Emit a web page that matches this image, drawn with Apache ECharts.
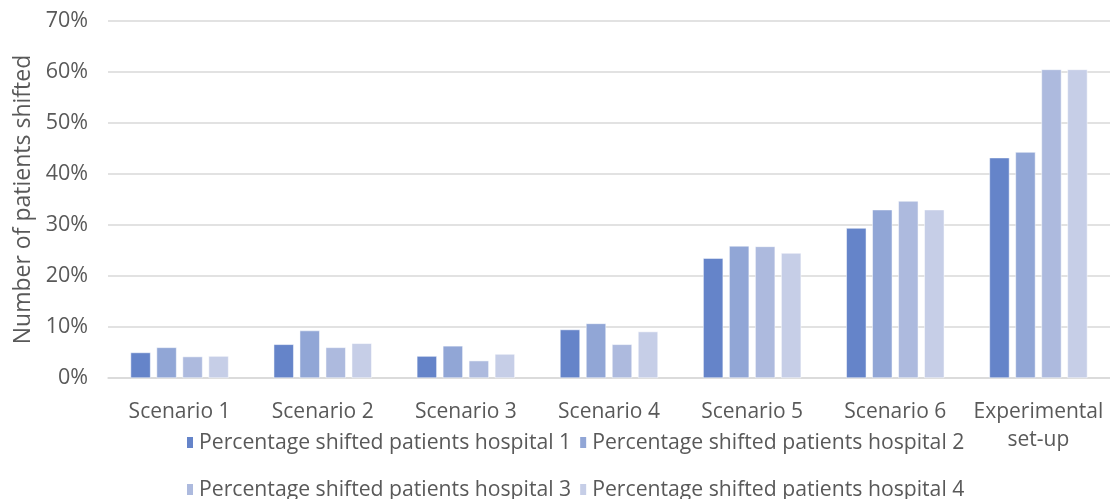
<!DOCTYPE html>
<html>
<head>
<meta charset="utf-8">
<script src="https://cdn.jsdelivr.net/npm/echarts@6/dist/echarts.min.js"></script>
<style>
  html, body { margin: 0; padding: 0; background: #fff; }
  #chart { width: 1110px; height: 499px; }
</style>
</head>
<body>
<div id="chart"></div>
<script>
const categories = ['Scenario 1', 'Scenario 2', 'Scenario 3', 'Scenario 4', 'Scenario 5', 'Scenario 6', 'Experimental set-up']
const seriesNames = [
  'Percentage shifted patients hospital 1',
  'Percentage shifted patients hospital 2',
  'Percentage shifted patients hospital 3',
  'Percentage shifted patients hospital 4',
]
const hospital1 = [5.0, 6.6, 4.3, 9.5, 23.5, 29.4, 43.2]
const hospital2 = [6.0, 9.3, 6.3, 10.7, 25.9, 33.0, 44.3]
const hospital3 = [4.2, 6.0, 3.4, 6.6, 25.8, 34.7, 60.5]
const hospital4 = [4.3, 6.8, 4.7, 9.1, 24.5, 33.0, 60.5]
const colors = ['#6584c9', '#91a6d6', '#adbade', '#c6cee7']

const font = '"Open Sans", sans-serif'
const chart = echarts.init(document.getElementById('chart'))

const legendBase = {
  icon: 'rect',
  itemWidth: 8,
  itemHeight: 13,
  itemGap: 7,
  left: 180,
  textStyle: { fontFamily: font, fontSize: 21.2, color: '#595959' },
}

chart.setOption({
  backgroundColor: '#fff',
  color: colors,
  legend: [
    { ...legendBase, top: 427, data: seriesNames.slice(0, 2) },
    { ...legendBase, top: 474, data: seriesNames.slice(2, 4) },
  ],
  grid: { left: 108, right: 0, top: 21, bottom: 121 },
  xAxis: {
    type: 'category',
    data: categories,
    axisLine: { lineStyle: { color: '#d9d9d9', width: 1.5 } },
    axisTick: { show: false },
    axisLabel: {
      interval: 0,
      fontFamily: font,
      fontSize: 21,
      color: '#595959',
      margin: 20,
      lineHeight: 28,
      formatter: v => v.replace(' set-', '\nset-'),
    },
  },
  yAxis: {
    type: 'value',
    min: 0,
    max: 70,
    interval: 10,
    name: 'Number of patients shifted',
    nameLocation: 'middle',
    nameGap: 72,
    nameTextStyle: { fontFamily: font, fontSize: 23, color: '#595959' },
    axisLabel: { fontFamily: font, fontSize: 21.5, color: '#595959', margin: 20, formatter: '{value}%' },
    splitLine: { lineStyle: { color: '#d9d9d9', width: 1.5 } },
  },
  series: [hospital1, hospital2, hospital3, hospital4].map((d, i) => ({
    name: seriesNames[i],
    type: 'bar',
    data: d,
    barWidth: 20,
    barGap: '30%',
    itemStyle: { color: colors[i], borderColor: '#fff', borderWidth: 0.5 },
  })),
})
</script>
</body>
</html>
